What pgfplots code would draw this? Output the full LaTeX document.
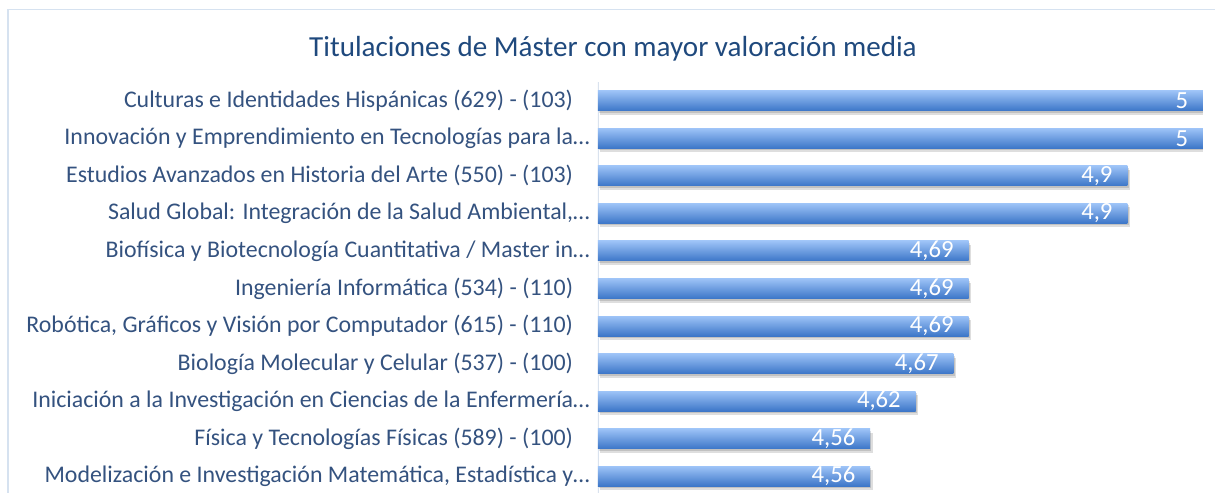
\documentclass[border=0pt]{standalone}
\usepackage{fontspec}
\setmainfont{Carlito}
\usepackage{pgfplots}
\pgfplotsset{compat=1.18}
\definecolor{framec}{HTML}{D6E2F0}
\definecolor{gridc}{HTML}{D9E2EE}
\definecolor{titlec}{HTML}{1F497D}
\definecolor{labc}{HTML}{34527F}
\definecolor{bartop}{HTML}{9DC3F7}
\definecolor{barmid}{HTML}{83AEEC}
\definecolor{barbot}{HTML}{3C76C8}
\pgfplotsset{
  shadowbar/.style={xbar, bar width=15pt, draw=none, fill=black, fill opacity=0.13, forget plot},
  mainbar/.style={xbar, bar width=15pt, draw=none, top color=bartop, middle color=barmid, bottom color=barbot,
    point meta=x, nodes near coords,
    nodes near coords style={anchor=east, text=white, font=\fontsize{18.5pt}{20pt}\selectfont, inner sep=0pt, xshift=-11pt,
      /pgf/number format/.cd, fixed, precision=2, use comma, assume math mode=true}},
}
\newcommand\onebar[2]{%
  \addplot[shadowbar, xshift=1.8pt, bar shift=-3pt] coordinates {(#1,#2)};
  \addplot[shadowbar, xshift=0.9pt, bar shift=-1.5pt] coordinates {(#1,#2)};
  \addplot[mainbar] coordinates {(#1,#2)};
}
\begin{document}
\begin{tikzpicture}
\useasboundingbox (0pt,0pt) rectangle (911.25pt,-369.75pt);
\clip (0pt,0pt) rectangle (911.25pt,-369.75pt);
\draw[framec, line width=1.2pt] (6pt,-7pt) -- (911.25pt,-7pt);
\draw[framec, line width=1.2pt] (6pt,-7pt) -- (6pt,-380pt);
\node[anchor=base, font=\fontsize{16pt}{18pt}\selectfont] at (458pt,3pt) {Gráfico 10};
\node[anchor=base, text=titlec, font=\fontsize{21.8pt}{24pt}\selectfont] at (459.75pt,-42.5pt) {Titulaciones de Máster con mayor valoración media};
\begin{axis}[
  at={(448.5pt,-371.25pt)}, anchor=south west,
  scale only axis, width=453.75pt, height=309.75pt,
  xmin=4.2, xmax=5.0, ymin=-0.5, ymax=10.5, y dir=reverse,
  xtick={4.2,4.4,4.6,4.8,5.0}, xticklabels={}, xmajorgrids,
  major grid style={gridc, line width=0.9pt},
  major tick length=0pt,
  axis line style={draw=none},
  axis x line=none,
  ytick={0,...,10},
  yticklabels={
    {Culturas e Identidades Hispánicas (629) - (103)\hspace*{12.5pt}},
    {Innovación y Emprendimiento en Tecnologías para la…},
    {Estudios Avanzados en Historia del Arte (550) - (103)\hspace*{12.5pt}},
    {Salud Global: Integración de la Salud Ambiental,…},
    {Biofísica y Biotecnología Cuantitativa / Master in…},
    {Ingeniería Informática (534) - (110)\hspace*{12.5pt}},
    {Robótica, Gráficos y Visión por Computador (615) - (110)\hspace*{12.5pt}},
    {Biología Molecular y Celular (537) - (100)\hspace*{12.5pt}},
    {Iniciación a la Investigación en Ciencias de la Enfermería…},
    {Física y Tecnologías Físicas (589) - (100)\hspace*{12.5pt}},
    {Modelización e Investigación Matemática, Estadística y…}},
  yticklabel style={font=\fontsize{17.9pt}{20pt}\selectfont, text=labc, anchor=east, inner sep=0pt, xshift=-6pt},
]
\draw[gridc, line width=0.9pt] (axis cs:4.2,-0.5) -- (axis cs:4.2,10.5);
\onebar{5}{0}
\onebar{5}{1}
\onebar{4.9}{2}
\onebar{4.9}{3}
\onebar{4.69}{4}
\onebar{4.69}{5}
\onebar{4.69}{6}
\onebar{4.67}{7}
\onebar{4.62}{8}
\onebar{4.56}{9}
\onebar{4.56}{10}
\end{axis}
\end{tikzpicture}
\end{document}
